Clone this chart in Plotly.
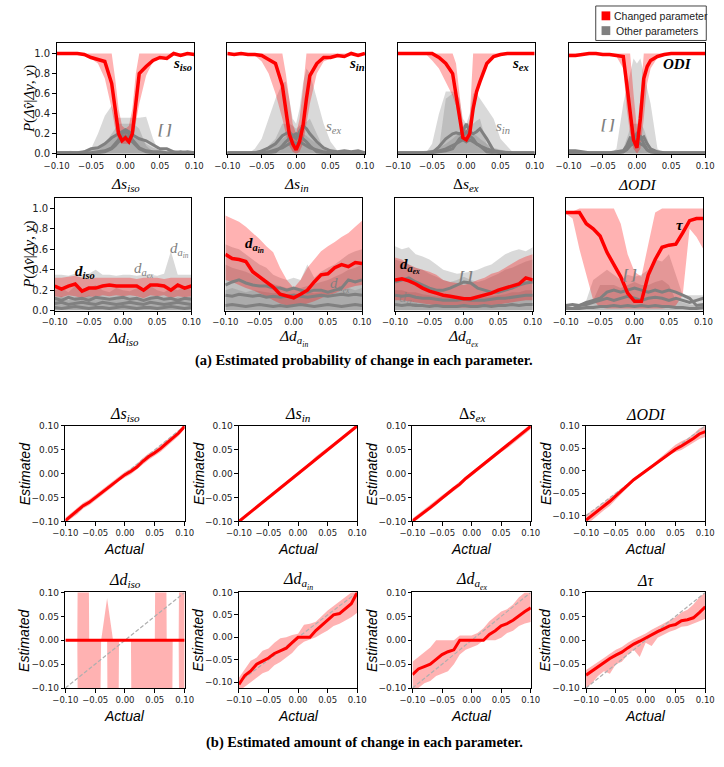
import plotly.graph_objects as go

# ---------------------------------------------------------------- data
# x grids
X_FINE = [-0.10, -0.09, -0.08, -0.07, -0.06, -0.05, -0.04, -0.03, -0.02, -0.015, -0.01, -0.005, 0.0,
          0.005, 0.01, 0.015, 0.02, 0.03, 0.04, 0.05, 0.06, 0.07, 0.08, 0.09, 0.10]
X = [-0.10, -0.09, -0.08, -0.07, -0.06, -0.05, -0.04, -0.03, -0.02, -0.01, 0.0,
     0.01, 0.02, 0.03, 0.04, 0.05, 0.06, 0.07, 0.08, 0.09, 0.10]
DIAG = [-0.10, 0.10]
TICKS = [-0.10, -0.05, 0.0, 0.05, 0.10]
PROB_TICKS = [0.0, 0.2, 0.4, 0.6, 0.8, 1.0]

# (a) probability of change -- row 1 (fine grid)
siso_red = [1.0, 1.0, 1.0, 1.0, 0.99, 0.96, 0.94, 0.92, 0.70, 0.45, 0.20, 0.13, 0.16, 0.12, 0.20, 0.50, 0.80, 0.87, 0.93, 0.96, 0.95, 1.0, 0.98, 1.0, 0.99]
siso_hi = [1.0, 1.0, 1.0, 1.0, 1.0, 1.0, 1.0, 1.0, 1.0, 0.75, 0.45, 0.28, 0.25, 0.28, 0.45, 0.80, 1.0, 1.0, 1.0, 1.0, 1.0, 1.0, 1.0, 1.0, 1.0]
siso_lo = [1.0, 1.0, 1.0, 1.0, 0.99, 0.95, 0.90, 0.75, 0.45, 0.25, 0.12, 0.10, 0.10, 0.10, 0.12, 0.30, 0.50, 0.78, 0.92, 0.95, 0.94, 0.98, 0.97, 0.99, 0.98]
siso_gband = [
    [0, 0, 0, 0, 0, 0.05, 0.20, 0.38, 0.48, 0.36, 0.36, 0.36, 0.36, 0.36, 0.36, 0.36, 0.36, 0.37, 0.15, 0.0, 0, 0, 0, 0, 0],
    [0, 0, 0, 0, 0, 0, 0.03, 0.10, 0.20, 0.25, 0.30, 0.30, 0.30, 0.30, 0.30, 0.28, 0.25, 0.08, 0.02, 0, 0, 0, 0, 0, 0],
    [0.03, 0.02, 0.03, 0.02, 0.03, 0.04, 0.06, 0.10, 0.15, 0.18, 0.20, 0.22, 0.22, 0.22, 0.20, 0.18, 0.15, 0.10, 0.06, 0.04, 0.03, 0.02, 0.03, 0.02, 0.03],
]
siso_glines = [
    [0.01, 0.01, 0.01, 0.01, 0.02, 0.05, 0.06, 0.10, 0.16, 0.18, 0.20, 0.22, 0.24, 0.22, 0.19, 0.17, 0.15, 0.13, 0.09, 0.05, 0.05, 0.02, 0.01, 0.02, 0.01],
    [0.0, 0.0, 0.0, 0.0, 0.0, 0.0, 0.01, 0.02, 0.05, 0.08, 0.12, 0.16, 0.18, 0.16, 0.12, 0.08, 0.05, 0.02, 0.01, 0.0, 0.0, 0.0, 0.0, 0.0, 0.0],
    [0.01, 0.01, 0.01, 0.01, 0.01, 0.01, 0.02, 0.03, 0.06, 0.10, 0.14, 0.20, 0.22, 0.20, 0.14, 0.10, 0.06, 0.03, 0.02, 0.02, 0.01, 0.01, 0.02, 0.01, 0.01],
]

sin_red = [1.0, 0.99, 1.0, 0.99, 0.99, 0.98, 0.94, 0.90, 0.68, 0.45, 0.20, 0.10, 0.04, 0.12, 0.28, 0.55, 0.78, 0.90, 0.96, 0.96, 0.98, 0.97, 1.0, 0.98, 1.0]
sin_hi = [1.0, 1.0, 1.0, 1.0, 1.0, 1.0, 1.0, 1.0, 1.0, 0.80, 0.55, 0.30, 0.20, 0.35, 0.65, 1.0, 1.0, 1.0, 1.0, 1.0, 1.0, 1.0, 1.0, 1.0, 1.0]
sin_lo = [1.0, 0.99, 1.0, 0.99, 0.98, 0.92, 0.80, 0.60, 0.35, 0.20, 0.08, 0.02, 0.0, 0.02, 0.10, 0.30, 0.50, 0.80, 0.92, 0.95, 0.97, 0.96, 0.99, 0.97, 0.99]
sin_gband = [
    [0, 0, 0, 0, 0.05, 0.15, 0.35, 0.55, 0.70, 0.72, 0.55, 0.35, 0.30, 0.45, 0.70, 0.85, 0.80, 0.55, 0.30, 0.12, 0.03, 0, 0, 0, 0],
    [0, 0, 0, 0, 0, 0.02, 0.08, 0.15, 0.30, 0.30, 0.30, 0.28, 0.25, 0.28, 0.30, 0.32, 0.35, 0.20, 0.05, 0, 0, 0, 0, 0, 0],
    [0.02, 0.02, 0.02, 0.02, 0.03, 0.04, 0.06, 0.10, 0.15, 0.18, 0.20, 0.20, 0.20, 0.20, 0.20, 0.18, 0.15, 0.10, 0.06, 0.04, 0.03, 0.02, 0.02, 0.02, 0.02],
]
sin_glines = [
    [0.01, 0.01, 0.01, 0.01, 0.01, 0.03, 0.06, 0.10, 0.18, 0.20, 0.22, 0.18, 0.15, 0.22, 0.28, 0.25, 0.20, 0.12, 0.06, 0.03, 0.02, 0.03, 0.02, 0.03, 0.01],
    [0.0, 0.0, 0.0, 0.0, 0.0, 0.01, 0.01, 0.02, 0.08, 0.12, 0.15, 0.18, 0.20, 0.18, 0.15, 0.12, 0.08, 0.02, 0.01, 0.01, 0.0, 0.0, 0.0, 0.0, 0.0],
    [0.01, 0.01, 0.01, 0.01, 0.01, 0.01, 0.02, 0.04, 0.06, 0.08, 0.10, 0.12, 0.10, 0.12, 0.10, 0.08, 0.06, 0.04, 0.02, 0.01, 0.01, 0.01, 0.01, 0.01, 0.01],
]

sex_red = [1.0, 1.0, 1.0, 1.0, 1.0, 1.0, 0.96, 0.90, 0.80, 0.60, 0.38, 0.16, 0.14, 0.20, 0.45, 0.62, 0.72, 0.90, 0.97, 0.99, 1.0, 1.0, 1.0, 1.0, 1.0]
sex_hi = [1.0, 1.0, 1.0, 1.0, 1.0, 1.0, 1.0, 1.0, 1.0, 0.90, 0.60, 0.30, 0.22, 0.35, 1.0, 1.0, 1.0, 1.0, 1.0, 1.0, 1.0, 1.0, 1.0, 1.0, 1.0]
sex_lo = [1.0, 1.0, 1.0, 1.0, 1.0, 0.93, 0.85, 0.72, 0.58, 0.48, 0.30, 0.14, 0.10, 0.14, 0.40, 0.55, 0.70, 0.90, 0.97, 0.99, 1.0, 1.0, 1.0, 1.0, 1.0]
sex_gband = [
    [0, 0, 0, 0, 0, 0.10, 0.40, 0.62, 0.62, 0.60, 0.55, 0.35, 0.30, 0.40, 0.60, 0.60, 0.55, 0.45, 0.35, 0.15, 0.07, 0, 0, 0, 0],
    [0, 0, 0, 0, 0, 0, 0.05, 0.55, 0.60, 0.50, 0.30, 0.25, 0.25, 0.28, 0.30, 0.33, 0.35, 0.10, 0, 0, 0, 0, 0, 0, 0],
    [0.02, 0.02, 0.02, 0.02, 0.03, 0.04, 0.06, 0.10, 0.15, 0.18, 0.20, 0.20, 0.20, 0.20, 0.20, 0.18, 0.15, 0.10, 0.06, 0.04, 0.03, 0.02, 0.02, 0.02, 0.02],
]
sex_glines = [
    [0.0, 0.0, 0.0, 0.0, 0.0, 0.01, 0.07, 0.15, 0.20, 0.21, 0.20, 0.22, 0.30, 0.22, 0.20, 0.22, 0.25, 0.15, 0.03, 0.01, 0.01, 0.0, 0.0, 0.0, 0.0],
    [0.01, 0.01, 0.01, 0.01, 0.01, 0.01, 0.02, 0.03, 0.05, 0.10, 0.15, 0.18, 0.22, 0.18, 0.15, 0.10, 0.08, 0.02, 0.01, 0.01, 0.01, 0.01, 0.01, 0.01, 0.01],
    [0.01, 0.01, 0.01, 0.01, 0.01, 0.02, 0.03, 0.05, 0.08, 0.10, 0.12, 0.14, 0.12, 0.14, 0.12, 0.10, 0.08, 0.05, 0.03, 0.02, 0.01, 0.01, 0.01, 0.01, 0.01],
]

odi_red = [0.98, 0.98, 0.99, 1.0, 1.0, 0.99, 0.99, 0.98, 0.97, 0.70, 0.42, 0.14, 0.06, 0.35, 0.75, 0.87, 0.93, 0.97, 0.99, 1.0, 1.0, 1.0, 1.0, 1.0, 1.0]
odi_hi = [1.0, 1.0, 1.0, 1.0, 1.0, 1.0, 1.0, 1.0, 1.0, 1.0, 1.0, 0.60, 0.25, 0.55, 1.0, 1.0, 1.0, 1.0, 1.0, 1.0, 1.0, 1.0, 1.0, 1.0, 1.0]
odi_lo = [0.98, 0.98, 0.99, 1.0, 1.0, 0.99, 0.99, 0.97, 0.85, 0.45, 0.20, 0.05, 0.0, 0.05, 0.35, 0.70, 0.85, 0.96, 0.99, 1.0, 1.0, 1.0, 1.0, 1.0, 1.0]
odi_gband = [
    [0, 0, 0, 0, 0, 0, 0, 0.05, 0.50, 0.65, 0.80, 0.95, 0.90, 0.95, 0.80, 0.65, 0.50, 0.05, 0, 0, 0, 0, 0, 0, 0],
    [0, 0, 0, 0, 0, 0, 0, 0, 0.05, 0.15, 0.25, 0.30, 0.30, 0.30, 0.25, 0.15, 0.05, 0, 0, 0, 0, 0, 0, 0, 0],
    [0.03, 0.03, 0.02, 0.02, 0.02, 0.02, 0.02, 0.03, 0.05, 0.10, 0.15, 0.20, 0.22, 0.20, 0.15, 0.10, 0.05, 0.03, 0.02, 0.02, 0.02, 0.02, 0.02, 0.02, 0.02],
]
odi_glines = [
    [0.03, 0.03, 0.02, 0.01, 0.01, 0.01, 0.01, 0.02, 0.03, 0.08, 0.16, 0.15, 0.20, 0.15, 0.17, 0.10, 0.05, 0.02, 0.01, 0.01, 0.01, 0.01, 0.01, 0.01, 0.01],
    [0.01, 0.01, 0.01, 0.01, 0.01, 0.01, 0.01, 0.01, 0.02, 0.05, 0.10, 0.18, 0.12, 0.18, 0.10, 0.04, 0.02, 0.01, 0.01, 0.01, 0.01, 0.01, 0.01, 0.01, 0.01],
    [0.0, 0.0, 0.0, 0.0, 0.0, 0.0, 0.0, 0.01, 0.02, 0.04, 0.08, 0.10, 0.12, 0.10, 0.08, 0.04, 0.02, 0.01, 0.0, 0.0, 0.0, 0.0, 0.0, 0.0, 0.0],
]

# (a) probability of change -- row 2 (regular grid)
diso_red = [0.24, 0.21, 0.24, 0.26, 0.19, 0.22, 0.22, 0.24, 0.25, 0.24, 0.24, 0.24, 0.24, 0.20, 0.25, 0.25, 0.24, 0.20, 0.25, 0.22, 0.24]
diso_hi = [0.32, 0.32, 0.33, 0.34, 0.32, 0.31, 0.32, 0.32, 0.32, 0.32, 0.32, 0.32, 0.31, 0.32, 0.32, 0.32, 0.31, 0.32, 0.32, 0.32, 0.32]
diso_lo = [0.14, 0.13, 0.15, 0.14, 0.12, 0.14, 0.13, 0.15, 0.14, 0.15, 0.14, 0.15, 0.14, 0.12, 0.15, 0.14, 0.15, 0.12, 0.14, 0.13, 0.14]
diso_gband = [
    [0.35, 0.35, 0.34, 0.36, 0.35, 0.36, 0.40, 0.35, 0.35, 0.34, 0.35, 0.35, 0.34, 0.35, 0.35, 0.34, 0.36, 0.58, 0.35, 0.35, 0.35],
    [0.20, 0.22, 0.18, 0.24, 0.20, 0.22, 0.25, 0.20, 0.18, 0.22, 0.20, 0.19, 0.22, 0.20, 0.24, 0.20, 0.18, 0.22, 0.20, 0.24, 0.20],
    [0.12, 0.14, 0.10, 0.13, 0.12, 0.15, 0.11, 0.13, 0.12, 0.10, 0.14, 0.12, 0.13, 0.11, 0.12, 0.14, 0.12, 0.10, 0.13, 0.12, 0.14],
]
diso_glines = [
    [0.12, 0.10, 0.13, 0.11, 0.12, 0.10, 0.13, 0.12, 0.11, 0.12, 0.13, 0.11, 0.12, 0.10, 0.12, 0.13, 0.11, 0.12, 0.10, 0.12, 0.11],
    [0.07, 0.08, 0.06, 0.07, 0.08, 0.07, 0.06, 0.08, 0.07, 0.06, 0.07, 0.08, 0.07, 0.06, 0.08, 0.07, 0.06, 0.07, 0.08, 0.07, 0.06],
    [0.03, 0.02, 0.03, 0.04, 0.03, 0.02, 0.03, 0.03, 0.02, 0.03, 0.04, 0.03, 0.02, 0.03, 0.03, 0.02, 0.03, 0.04, 0.03, 0.02, 0.03],
]

dain_red = [0.55, 0.51, 0.50, 0.48, 0.38, 0.33, 0.28, 0.23, 0.16, 0.14, 0.125, 0.16, 0.20, 0.28, 0.35, 0.36, 0.42, 0.45, 0.43, 0.47, 0.46]
dain_hi = [0.93, 0.90, 0.87, 0.82, 0.76, 0.70, 0.63, 0.57, 0.42, 0.30, 0.22, 0.30, 0.42, 0.50, 0.58, 0.63, 0.67, 0.72, 0.76, 0.82, 0.88]
dain_lo = [0.30, 0.28, 0.25, 0.22, 0.20, 0.17, 0.14, 0.10, 0.07, 0.05, 0.05, 0.05, 0.07, 0.09, 0.12, 0.15, 0.17, 0.20, 0.22, 0.24, 0.25]
dain_gband = [
    [0.65, 0.62, 0.60, 0.55, 0.50, 0.45, 0.42, 0.35, 0.32, 0.30, 0.32, 0.30, 0.45, 0.32, 0.38, 0.42, 0.45, 0.50, 0.55, 0.58, 0.60],
    [0.45, 0.42, 0.40, 0.38, 0.35, 0.30, 0.28, 0.26, 0.24, 0.22, 0.23, 0.22, 0.24, 0.26, 0.28, 0.30, 0.33, 0.36, 0.40, 0.42, 0.45],
    [0.20, 0.22, 0.20, 0.18, 0.20, 0.19, 0.18, 0.17, 0.18, 0.16, 0.17, 0.16, 0.18, 0.17, 0.18, 0.19, 0.18, 0.20, 0.22, 0.20, 0.22],
]
dain_glines = [
    [0.25, 0.28, 0.30, 0.27, 0.25, 0.24, 0.24, 0.22, 0.22, 0.20, 0.22, 0.20, 0.18, 0.20, 0.20, 0.18, 0.20, 0.22, 0.30, 0.28, 0.30],
    [0.15, 0.14, 0.16, 0.15, 0.14, 0.15, 0.13, 0.14, 0.13, 0.14, 0.15, 0.14, 0.13, 0.14, 0.15, 0.14, 0.15, 0.16, 0.15, 0.16, 0.15],
    [0.05, 0.06, 0.05, 0.04, 0.05, 0.06, 0.05, 0.04, 0.05, 0.04, 0.05, 0.06, 0.05, 0.04, 0.05, 0.06, 0.05, 0.04, 0.05, 0.06, 0.05],
]

daex_red = [0.30, 0.31, 0.29, 0.26, 0.22, 0.19, 0.17, 0.15, 0.14, 0.125, 0.115, 0.115, 0.135, 0.155, 0.17, 0.20, 0.22, 0.24, 0.26, 0.32, 0.30]
daex_hi = [0.52, 0.50, 0.45, 0.42, 0.40, 0.38, 0.35, 0.30, 0.28, 0.27, 0.25, 0.27, 0.30, 0.32, 0.36, 0.38, 0.42, 0.46, 0.50, 0.53, 0.55]
daex_lo = [0.10, 0.10, 0.09, 0.08, 0.07, 0.06, 0.05, 0.04, 0.04, 0.03, 0.03, 0.03, 0.04, 0.04, 0.05, 0.06, 0.07, 0.08, 0.09, 0.10, 0.10]
daex_gband = [
    [0.63, 0.60, 0.62, 0.55, 0.53, 0.50, 0.45, 0.40, 0.38, 0.36, 0.37, 0.38, 0.40, 0.43, 0.45, 0.50, 0.55, 0.58, 0.60, 0.58, 0.62],
    [0.50, 0.48, 0.45, 0.42, 0.40, 0.36, 0.33, 0.30, 0.28, 0.30, 0.33, 0.30, 0.28, 0.30, 0.33, 0.36, 0.40, 0.42, 0.45, 0.48, 0.50],
    [0.20, 0.20, 0.18, 0.18, 0.16, 0.15, 0.14, 0.13, 0.13, 0.12, 0.12, 0.12, 0.13, 0.13, 0.14, 0.15, 0.16, 0.18, 0.18, 0.20, 0.20],
]
daex_glines = [
    [0.28, 0.30, 0.32, 0.28, 0.25, 0.22, 0.20, 0.20, 0.22, 0.25, 0.28, 0.27, 0.22, 0.20, 0.18, 0.18, 0.20, 0.22, 0.25, 0.27, 0.28],
    [0.15, 0.14, 0.15, 0.13, 0.12, 0.12, 0.11, 0.10, 0.10, 0.10, 0.11, 0.10, 0.10, 0.10, 0.11, 0.12, 0.12, 0.13, 0.14, 0.15, 0.15],
    [0.06, 0.05, 0.06, 0.05, 0.05, 0.04, 0.05, 0.04, 0.04, 0.04, 0.05, 0.04, 0.04, 0.05, 0.04, 0.05, 0.05, 0.06, 0.05, 0.06, 0.06],
]

tau_red = [0.96, 0.96, 0.96, 0.85, 0.80, 0.73, 0.57, 0.45, 0.33, 0.17, 0.09, 0.09, 0.35, 0.50, 0.62, 0.64, 0.65, 0.76, 0.88, 0.90, 0.90]
tau_hi = [0.96, 0.97, 1.0, 1.0, 1.0, 1.0, 1.0, 1.0, 0.85, 0.55, 0.38, 0.33, 0.65, 0.96, 1.0, 1.0, 1.0, 1.0, 1.0, 1.0, 1.0]
tau_lo = [0.95, 0.90, 0.60, 0.35, 0.10, 0.03, 0.02, 0.02, 0.02, 0.02, 0.02, 0.02, 0.02, 0.02, 0.02, 0.03, 0.05, 0.15, 0.80, 0.72, 0.60]
tau_gband = [
    [0.03, 0.02, 0.05, 0.10, 0.30, 0.35, 0.40, 0.35, 0.30, 0.35, 0.33, 0.35, 0.40, 0.50, 0.48, 0.55, 0.35, 0.15, 0.15, 0.15, 0.15],
    [0.02, 0.02, 0.03, 0.05, 0.10, 0.25, 0.25, 0.25, 0.22, 0.25, 0.28, 0.25, 0.25, 0.28, 0.30, 0.25, 0.10, 0.08, 0.06, 0.05, 0.05],
]
tau_glines = [
    [0.03, 0.02, 0.05, 0.08, 0.10, 0.12, 0.18, 0.20, 0.18, 0.20, 0.22, 0.20, 0.18, 0.20, 0.18, 0.20, 0.18, 0.15, 0.12, 0.05, 0.06],
    [0.05, 0.06, 0.05, 0.06, 0.08, 0.10, 0.12, 0.10, 0.12, 0.14, 0.12, 0.10, 0.12, 0.13, 0.12, 0.10, 0.12, 0.10, 0.08, 0.10, 0.12],
    [0.02, 0.02, 0.02, 0.03, 0.03, 0.04, 0.04, 0.05, 0.04, 0.05, 0.04, 0.05, 0.04, 0.05, 0.04, 0.04, 0.03, 0.03, 0.02, 0.02, 0.03],
]

# (b) estimated amount of change
est_siso = [-0.098, -0.088, -0.079, -0.067, -0.060, -0.050, -0.041, -0.031, -0.021, -0.010, -0.002, 0.005, 0.014, 0.026, 0.036, 0.044, 0.053, 0.064, 0.074, 0.085, 0.099]
est_siso_hi = [-0.092, -0.082, -0.073, -0.061, -0.054, -0.044, -0.035, -0.025, -0.015, -0.004, 0.004, 0.011, 0.021, 0.033, 0.043, 0.050, 0.060, 0.071, 0.081, 0.091, 0.104]
est_siso_lo = [-0.104, -0.094, -0.085, -0.073, -0.066, -0.056, -0.047, -0.037, -0.027, -0.016, -0.008, -0.001, 0.008, 0.019, 0.029, 0.038, 0.046, 0.057, 0.067, 0.079, 0.094]

est_sin = [-0.100, -0.090, -0.081, -0.070, -0.060, -0.050, -0.040, -0.030, -0.020, -0.010, 0.0, 0.010, 0.020, 0.031, 0.041, 0.050, 0.060, 0.070, 0.080, 0.090, 0.100]
est_sin_hi = [-0.096, -0.086, -0.076, -0.066, -0.056, -0.046, -0.036, -0.026, -0.016, -0.007, 0.003, 0.013, 0.024, 0.036, 0.045, 0.054, 0.064, 0.074, 0.084, 0.094, 0.104]
est_sin_lo = [-0.104, -0.094, -0.085, -0.074, -0.064, -0.054, -0.044, -0.034, -0.024, -0.013, -0.003, 0.007, 0.016, 0.026, 0.037, 0.046, 0.056, 0.066, 0.076, 0.086, 0.096]

est_sex = [-0.099, -0.090, -0.080, -0.071, -0.061, -0.050, -0.041, -0.031, -0.022, -0.010, 0.0, 0.009, 0.019, 0.030, 0.040, 0.050, 0.058, 0.069, 0.079, 0.089, 0.099]
est_sex_hi = [-0.094, -0.084, -0.074, -0.065, -0.055, -0.045, -0.036, -0.026, -0.017, -0.005, 0.005, 0.014, 0.024, 0.035, 0.045, 0.055, 0.064, 0.075, 0.085, 0.095, 0.104]
est_sex_lo = [-0.104, -0.095, -0.085, -0.076, -0.066, -0.055, -0.046, -0.036, -0.027, -0.015, -0.005, 0.004, 0.014, 0.025, 0.035, 0.045, 0.053, 0.063, 0.073, 0.083, 0.093]

est_odi = [-0.110, -0.100, -0.090, -0.078, -0.068, -0.056, -0.045, -0.032, -0.020, -0.010, 0.0, 0.010, 0.020, 0.030, 0.040, 0.048, 0.055, 0.063, 0.072, 0.082, 0.087]
est_odi_hi = [-0.098, -0.090, -0.080, -0.070, -0.060, -0.050, -0.040, -0.028, -0.016, -0.007, 0.003, 0.013, 0.024, 0.035, 0.046, 0.058, 0.066, 0.072, 0.082, 0.094, 0.100]
est_odi_lo = [-0.120, -0.110, -0.100, -0.088, -0.078, -0.063, -0.050, -0.037, -0.024, -0.013, -0.003, 0.007, 0.016, 0.026, 0.035, 0.042, 0.046, 0.054, 0.063, 0.071, 0.075]

est_diso = [0.0, 0.0, 0.0, 0.0, 0.0, 0.0, 0.0, 0.0, 0.0, 0.0, 0.0, 0.0, 0.0, 0.001, 0.001, 0.0, 0.0, 0.0, 0.0, 0.0, 0.0]
est_diso_hi = [0.0, 0.0, 0.0, 2.0, 0.0, 0.0, 0.0, 0.088, 0.0, 0.0, 0.0, 0.0, 0.0, 0.0, 0.0, 0.0, 2.0, 0.0, 0.0, 0.0, 2.0]
est_diso_lo = [0.0, 0.0, 0.0, -2.0, -2.0, -2.0, 0.0, 0.0, -2.0, 0.0, 0.0, 0.0, -2.0, -2.0, -2.0, -2.0, -2.0, -2.0, 0.0, 0.0, -2.0]

est_dain = [-0.105, -0.085, -0.075, -0.060, -0.053, -0.046, -0.036, -0.030, -0.024, -0.012, 0.0, 0.0, 0.0, 0.015, 0.027, 0.040, 0.050, 0.053, 0.065, 0.075, 0.100]
est_dain_hi = [-0.090, -0.070, -0.052, -0.045, -0.030, -0.025, -0.012, -0.002, 0.0, 0.005, 0.008, 0.028, 0.030, 0.035, 0.048, 0.060, 0.070, 0.080, 0.090, 0.100, 0.105]
est_dain_lo = [-0.120, -0.110, -0.100, -0.090, -0.080, -0.075, -0.062, -0.055, -0.045, -0.035, -0.020, -0.010, -0.005, 0.0, 0.008, 0.015, 0.025, 0.030, 0.038, 0.045, 0.055]

est_daex = [-0.072, -0.060, -0.055, -0.050, -0.040, -0.030, -0.024, -0.020, 0.0, 0.0, 0.0, 0.0, 0.0, 0.012, 0.020, 0.030, 0.035, 0.042, 0.052, 0.060, 0.068]
est_daex_hi = [-0.045, -0.035, -0.025, -0.015, 0.0, 0.0, 0.0, 0.0, 0.010, 0.010, 0.010, 0.015, 0.025, 0.040, 0.050, 0.060, 0.065, 0.075, 0.090, 0.100, 0.100]
est_daex_lo = [-0.110, -0.100, -0.090, -0.085, -0.075, -0.070, -0.065, -0.050, -0.030, -0.020, -0.015, -0.010, 0.0, 0.0, 0.0, 0.005, 0.015, 0.020, 0.030, 0.035, 0.038]

est_tau = [-0.073, -0.064, -0.055, -0.047, -0.038, -0.031, -0.025, -0.016, -0.008, -0.002, 0.005, 0.012, 0.018, 0.024, 0.030, 0.033, 0.041, 0.043, 0.047, 0.058, 0.070]
est_tau_hi = [-0.062, -0.054, -0.045, -0.037, -0.028, -0.020, -0.014, -0.005, 0.002, 0.008, 0.014, 0.022, 0.028, 0.035, 0.042, 0.048, 0.058, 0.064, 0.075, 0.090, 0.100]
est_tau_lo = [-0.100, -0.090, -0.075, -0.065, -0.070, -0.050, -0.045, -0.030, -0.020, -0.035, -0.005, -0.012, 0.005, 0.012, 0.018, 0.022, 0.028, 0.030, 0.035, 0.040, 0.045]

# ---------------------------------------------------------------- styles
W, H = 724, 767
RED = "rgb(255,0,0)"
RED_BAND = "rgba(255,0,0,0.30)"
GRAY = "rgb(128,128,128)"
GRAY_BAND = "rgba(128,128,128,0.30)"
MATH = "Liberation Serif"
TICKF = "DejaVu Sans"


def fx(px):
    return px / W


def fy(py):
    return 1 - py / H


def sub(base, s, bold=False):
    t = f"<i>{base}</i><sub><i>{s}</i></sub>"
    return f"<b>{t}</b>" if bold else t


# text helpers
T_SISO = "<i>Δs</i><sub><i>iso</i></sub>"
T_SIN = "<i>Δs</i><sub><i>in</i></sub>"
T_SEX = "Δ<i>s</i><sub><i>ex</i></sub>"
T_ODI = "<i>ΔODI</i>"
T_DISO = "<i>Δd</i><sub><i>iso</i></sub>"
T_DAIN = "<i>Δd</i><sub><i>a</i><sub><i>in</i></sub></sub>"
T_DAEX = "<i>Δd</i><sub><i>a</i><sub><i>ex</i></sub></sub>"
T_TAU = "<i>Δτ</i>"
BRK = "<b><i>[ ]</i></b>"

TOP_PANELS = [
    dict(x=X_FINE, red=siso_red, hi=siso_hi, lo=siso_lo, gb=siso_gband, gl=siso_glines, title=T_SISO,
         labels=[(0.083, 0.90, sub("s", "iso", True), "black"), (0.058, 0.25, BRK, GRAY)]),
    dict(x=X_FINE, red=sin_red, hi=sin_hi, lo=sin_lo, gb=sin_gband, gl=sin_glines, title=T_SIN,
         labels=[(0.088, 0.90, sub("s", "in", True), "black"), (0.055, 0.27, sub("s", "ex"), GRAY)]),
    dict(x=X_FINE, red=sex_red, hi=sex_hi, lo=sex_lo, gb=sex_gband, gl=sex_glines, title=T_SEX,
         labels=[(0.080, 0.90, sub("s", "ex", True), "black"), (0.053, 0.27, sub("s", "in"), GRAY)]),
    dict(x=X_FINE, red=odi_red, hi=odi_hi, lo=odi_lo, gb=odi_gband, gl=odi_glines, title=T_ODI,
         labels=[(0.060, 0.90, "<b><i>ODI</i></b>", "black"), (-0.042, 0.30, BRK, GRAY)]),
    dict(x=X, red=diso_red, hi=diso_hi, lo=diso_lo, gb=diso_gband, gl=diso_glines, title=T_DISO,
         labels=[(-0.056, 0.38, sub("d", "iso", True), "black"), (0.030, 0.40, "<i>d</i><sub><i>a</i><sub><i>ex</i></sub></sub>", GRAY),
                 (0.083, 0.59, "<i>d</i><sub><i>a</i><sub><i>in</i></sub></sub>", GRAY)]),
    dict(x=X, red=dain_red, hi=dain_hi, lo=dain_lo, gb=dain_gband, gl=dain_glines, title=T_DAIN,
         labels=[(-0.057, 0.64, "<b><i>d</i><sub><i>a</i><sub><i>in</i></sub></sub></b>", "black"),
                 (0.068, 0.25, "<i>d</i><sub><i>a</i><sub><i>ex</i></sub></sub>", GRAY)]),
    dict(x=X, red=daex_red, hi=daex_hi, lo=daex_lo, gb=daex_gband, gl=daex_glines, title=T_DAEX,
         labels=[(-0.078, 0.44, "<b><i>d</i><sub><i>a</i><sub><i>ex</i></sub></sub></b>", "black"), (0.003, 0.34, BRK, GRAY),
                 (-0.080, 0.11, "<i>d</i><sub><i>a</i><sub><i>in</i></sub></sub>", "rgba(128,128,128,0.6)")]),
    dict(x=X, red=tau_red, hi=tau_hi, lo=tau_lo, gb=tau_gband, gl=tau_glines, title=T_TAU,
         labels=[(0.066, 0.84, "<b><i>τ</i></b>", "black"), (-0.006, 0.36, BRK, GRAY)]),
]

BOT_PANELS = [
    dict(y=est_siso, hi=est_siso_hi, lo=est_siso_lo, title=T_SISO, yr=[-0.10, 0.10]),
    dict(y=est_sin, hi=est_sin_hi, lo=est_sin_lo, title=T_SIN, yr=[-0.10, 0.10]),
    dict(y=est_sex, hi=est_sex_hi, lo=est_sex_lo, title=T_SEX, yr=[-0.10, 0.10]),
    dict(y=est_odi, hi=est_odi_hi, lo=est_odi_lo, title=T_ODI, yr=[-0.113, 0.10]),
    dict(y=est_diso, hi=est_diso_hi, lo=est_diso_lo, title=T_DISO, yr=[-0.10, 0.10]),
    dict(y=est_dain, hi=est_dain_hi, lo=est_dain_lo, title=T_DAIN, yr=[-0.113, 0.10]),
    dict(y=est_daex, hi=est_daex_hi, lo=est_daex_lo, title=T_DAEX, yr=[-0.10, 0.10]),
    dict(y=est_tau, hi=est_tau_hi, lo=est_tau_lo, title=T_TAU, yr=[-0.10, 0.10]),
]

# pixel geometry of the panels
TOP_X = [[(45, 187), (221, 363), (397, 538), (573, 714)],
         [(43, 184), (219, 360), (394, 536), (570, 712)]]
TOP_Y = [(39, 151), (196, 310)]
BOT_X = [(54, 177), (233, 355), (412, 534), (591, 714)]
BOT_Y = [(427, 524), (596, 693)]

fig = go.Figure()
layout = dict(width=W, height=H, margin=dict(l=0, r=0, t=0, b=0), paper_bgcolor="white",
              plot_bgcolor="white", showlegend=False)
annotations = []
shapes = []


def names(k):
    return ("x" if k == 1 else f"x{k}"), ("y" if k == 1 else f"y{k}")


def base_axis(domain, rng, anchor):
    return dict(domain=domain, range=rng, anchor=anchor, showline=True, mirror=True, linecolor="black",
                linewidth=1, showgrid=False, zeroline=False, fixedrange=True, ticks="outside",
                ticklen=3.5, tickwidth=1, tickcolor="black")


def band(x, lo, hi, color, xa, ya):
    fig.add_trace(go.Scatter(x=list(x) + list(x)[::-1], y=list(hi) + list(lo)[::-1], mode="lines",
                             fill="toself", fillcolor=color, line=dict(width=0), hoverinfo="skip",
                             xaxis=xa, yaxis=ya))


def ann(text, x, y, size, family, color="black", xref="paper", yref="paper", angle=0, **kw):
    annotations.append(dict(text=text, x=x, y=y, xref=xref, yref=yref, showarrow=False, textangle=angle,
                            font=dict(family=family, size=size, color=color), xanchor="center",
                            yanchor="middle", **kw))


k = 0
# ---------------- group (a)
for i, p in enumerate(TOP_PANELS):
    k += 1
    r, c = divmod(i, 4)
    xa, ya = names(k)
    x0, x1 = TOP_X[r][c]
    y0, y1 = TOP_Y[r]
    for g in p["gb"]:
        fig.add_trace(go.Scatter(x=p["x"], y=g, mode="lines", fill="tozeroy", fillcolor=GRAY_BAND,
                                 line=dict(width=0), hoverinfo="skip", xaxis=xa, yaxis=ya))
    band(p["x"], p["lo"], p["hi"], RED_BAND, xa, ya)
    for g in p["gl"]:
        fig.add_trace(go.Scatter(x=p["x"], y=g, mode="lines", line=dict(color=GRAY, width=3),
                                 hoverinfo="skip", xaxis=xa, yaxis=ya))
    fig.add_trace(go.Scatter(x=p["x"], y=p["red"], mode="lines", line=dict(color=RED, width=3.5),
                             hoverinfo="skip", xaxis=xa, yaxis=ya))
    xd = base_axis([fx(x0), fx(x1)], [-0.10, 0.10], ya)
    xd.update(tickvals=TICKS, tickformat=".2f", tickfont=dict(family=TICKF, size=8.5, color="#222"))
    yd = base_axis([fy(y1), fy(y0)], [0, 1.1], xa)
    yd.update(tickvals=PROB_TICKS, tickformat=".1f", tickfont=dict(family=TICKF, size=10, color="#222"))
    if c > 0:
        yd.update(showticklabels=False, ticks="")
    layout["xaxis" if k == 1 else f"xaxis{k}"] = xd
    layout["yaxis" if k == 1 else f"yaxis{k}"] = yd
    ann(p["title"], fx((x0 + x1) / 2), fy(182 if r == 0 else 338), 15.5, MATH)
    for (lx, ly, txt, col) in p["labels"]:
        ann(txt, lx, ly, 15, MATH, color=col, xref=xa, yref=ya)
    if c == 0:
        ann("<i>P</i>(<i>Δv̂</i>|<i>Δy</i>, <i>y</i>)", fx(17), fy((y0 + y1) / 2), 15, MATH, angle=-90)

# ---------------- group (b)
for i, p in enumerate(BOT_PANELS):
    k += 1
    r, c = divmod(i, 4)
    xa, ya = names(k)
    x0, x1 = BOT_X[c]
    y0, y1 = BOT_Y[r]
    band(X, p["lo"], p["hi"], RED_BAND, xa, ya)
    fig.add_trace(go.Scatter(x=DIAG, y=DIAG, mode="lines", line=dict(color="rgb(175,175,175)", width=1.2,
                             dash="4px,2px"), hoverinfo="skip", xaxis=xa, yaxis=ya))
    fig.add_trace(go.Scatter(x=X, y=p["y"], mode="lines", line=dict(color=RED, width=3),
                             hoverinfo="skip", xaxis=xa, yaxis=ya))
    xd = base_axis([fx(x0), fx(x1)], [-0.10, 0.10], ya)
    xd.update(tickvals=TICKS, tickformat=".2f", tickfont=dict(family=TICKF, size=8.5, color="#222"))
    yd = base_axis([fy(y1), fy(y0)], p["yr"], xa)
    yd.update(tickvals=TICKS, tickformat=".2f", tickfont=dict(family=TICKF, size=9, color="#222"))
    layout["xaxis" if k == 1 else f"xaxis{k}"] = xd
    layout["yaxis" if k == 1 else f"yaxis{k}"] = yd
    ann(p["title"], fx((x0 + x1) / 2), fy(y0 - 12), 16, MATH)
    ann("<i>Actual</i>", fx((x0 + x1) / 2), fy(y1 + 28), 14, "Liberation Sans")
    ann("<i>Estimated</i>", fx(x0 - 42), fy((y0 + y1) / 2), 14, "Liberation Sans", angle=-90)

# captions
ann("<b>(a) Estimated probability of change in each parameter.</b>", 0.5, fy(361), 14.5, MATH)
ann("<b>(b) Estimated amount of change in each parameter.</b>", 0.5, fy(748), 14.5, MATH)

# legend box (top-right)
shapes.append(dict(type="rect", xref="paper", yref="paper", x0=fx(601), x1=fx(715), y0=fy(36), y1=fy(1),
                   line=dict(color="#444", width=1), fillcolor="white"))
shapes.append(dict(type="rect", xref="paper", yref="paper", x0=fx(607), x1=fx(616), y0=fy(15.5), y1=fy(6.5),
                   line=dict(width=0), fillcolor=RED))
shapes.append(dict(type="rect", xref="paper", yref="paper", x0=fx(607), x1=fx(616), y0=fy(30.5), y1=fy(21.5),
                   line=dict(width=0), fillcolor=GRAY))
annotations.append(dict(text="Changed parameter", x=fx(618), y=fy(11), xref="paper", yref="paper",
                        showarrow=False, xanchor="left", yanchor="middle",
                        font=dict(family="Liberation Sans", size=10.5, color="#222")))
annotations.append(dict(text="Other parameters", x=fx(620), y=fy(26), xref="paper", yref="paper",
                        showarrow=False, xanchor="left", yanchor="middle",
                        font=dict(family="Liberation Sans", size=10.5, color="#222")))

layout["annotations"] = annotations
layout["shapes"] = shapes
fig.update_layout(**layout)
fig.write_html("out.html", config={"displayModeBar": False},
               post_script="document.body.style.margin='0px';document.body.style.overflow='hidden';")
